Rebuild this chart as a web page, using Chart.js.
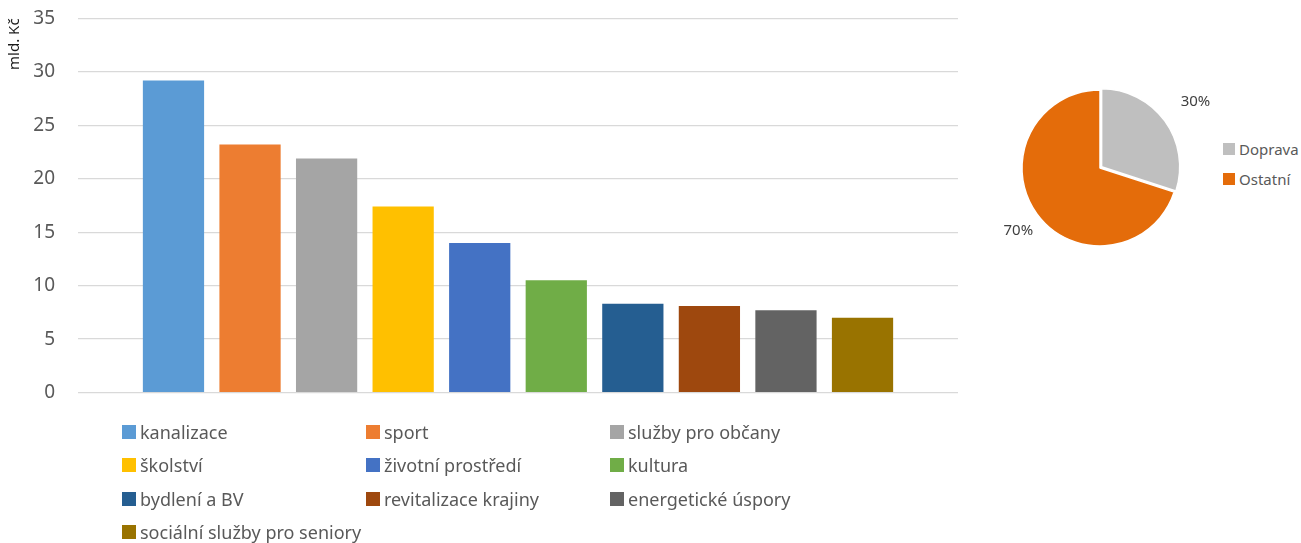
<!DOCTYPE html>
<html>
<head>
<meta charset="utf-8">
<script src="https://cdn.jsdelivr.net/npm/chart.js@4/dist/chart.umd.min.js"></script>
<style>
  body { margin: 0; background: #fff; font-family: "Noto Sans", sans-serif; }
  #wrap { position: relative; width: 1301px; height: 543px; overflow: hidden; }
  #barBox { position: absolute; left: 0; top: -16px; width: 962px; height: 443px; }
  #pieBox { position: absolute; left: 980px; top: 58px; width: 240px; height: 220px; }
  .legend { position: absolute; color: #595959; }
  #barLegend { left: 122px; top: 415px; display: grid; grid-template-columns: 244px 244px 244px; row-gap: 0; }
  #barLegend .item { height: 33.5px; display: flex; align-items: center; font-size: 18px; white-space: nowrap; }
  #barLegend .sw { width: 14px; height: 14px; margin-right: 4px; flex: none; }
  #pieLegend { left: 1223px; top: 134px; }
  #pieLegend .item { height: 30px; display: flex; align-items: center; font-size: 15px; }
  #pieLegend .sw { width: 12px; height: 12px; margin-right: 4px; }
</style>
</head>
<body>
<div id="wrap">
  <div id="barBox"><canvas id="barChart"></canvas></div>
  <div id="pieBox"><canvas id="pieChart"></canvas></div>
  <div id="barLegend" class="legend"></div>
  <div id="pieLegend" class="legend"></div>
</div>
<script>
// bar chart data (mld. Kč)
const categories = [
  'kanalizace', 'sport', 'služby pro občany', 'školství', 'životní prostředí',
  'kultura', 'bydlení a BV', 'revitalizace krajiny', 'energetické úspory',
  'sociální služby pro seniory'
];
const values = [29.2, 23.2, 21.9, 17.4, 14.0, 10.5, 8.3, 8.1, 7.7, 7.0];
const barColors = [
  '#5B9BD5', '#ED7D31', '#A5A5A5', '#FFC000', '#4472C4',
  '#70AD47', '#255E91', '#9E480E', '#636363', '#997300'
];
const yTicks = [0, 5, 10, 15, 20, 25, 30, 35];

// pie chart data (%)
const pieLabels = ['Doprava', 'Ostatní'];
const pieValues = [30, 70];
const pieColors = ['#BFBFBF', '#E46C0A'];

Chart.defaults.font.family = '"Noto Sans", sans-serif';
Chart.defaults.animation = false;

const barChart = new Chart(document.getElementById('barChart'), {
  type: 'bar',
  data: {
    labels: [''],
    datasets: categories.map((c, i) => ({
      label: c,
      data: [values[i]],
      backgroundColor: barColors[i]
    }))
  },
  options: {
    responsive: true,
    maintainAspectRatio: false,
    categoryPercentage: 0.87,
    barPercentage: 0.8,
    layout: { padding: { top: 3, right: 4, bottom: 0, left: 0 } },
    plugins: { legend: { display: false }, tooltip: { enabled: false } },
    scales: {
      x: {
        grid: { display: false },
        border: { display: false },
        ticks: { display: false }
      },
      y: {
        min: 0,
        max: 35,
        afterBuildTicks: (scale) => { scale.ticks = yTicks.map(v => ({ value: v })); },
        afterFit: (scale) => { scale.width = 78; },
        grid: { color: '#D9D9D9', drawTicks: false, lineWidth: 1.3 },
        border: { display: false },
        ticks: { color: '#595959', font: { size: 19 }, padding: 23 },
        title: {
          display: true,
          text: 'mld. Kč',
          align: 'end',
          color: '#1a1a1a',
          font: { size: 15 },
          padding: { top: 6, bottom: 0 }
        }
      }
    }
  }
});

// html legend in three columns, built from the chart's legend items
const barLegend = document.getElementById('barLegend');
Chart.defaults.plugins.legend.labels.generateLabels(barChart).forEach(item => {
  const d = document.createElement('div');
  d.className = 'item';
  d.innerHTML = '<span class="sw" style="background:' + item.fillStyle + '"></span>' + item.text;
  barLegend.appendChild(d);
});

// percent labels outside the pie
const pieLabelPlugin = {
  id: 'pieLabels',
  afterDatasetsDraw(chart) {
    const ctx = chart.ctx;
    const meta = chart.getDatasetMeta(0);
    const total = pieValues.reduce((a, b) => a + b, 0);
    ctx.save();
    ctx.font = '15px "Noto Sans", sans-serif';
    ctx.fillStyle = '#404040';
    ctx.textAlign = 'center';
    ctx.textBaseline = 'middle';
    meta.data.forEach((arc, i) => {
      const mid = (arc.startAngle + arc.endAngle) / 2;
      const r = arc.outerRadius + 23 + (arc.options.offset ? 17 : 0);
      const x = arc.x + Math.cos(mid) * r;
      const y = arc.y + Math.sin(mid) * r + 3;
      ctx.fillText(Math.round(pieValues[i] / total * 100) + '%', x, y);
    });
    ctx.restore();
  }
};

const pieChart = new Chart(document.getElementById('pieChart'), {
  type: 'pie',
  data: {
    labels: pieLabels,
    datasets: [{
      data: pieValues,
      backgroundColor: pieColors,
      borderColor: '#ffffff',
      borderWidth: 1.5,
      offset: [8, 0]
    }]
  },
  options: {
    responsive: true,
    maintainAspectRatio: false,
    radius: 78,
    plugins: { legend: { display: false }, tooltip: { enabled: false } }
  },
  plugins: [pieLabelPlugin]
});

const pieLegend = document.getElementById('pieLegend');
pieChart.options.plugins.legend.labels.generateLabels(pieChart).forEach(item => {
  const d = document.createElement('div');
  d.className = 'item';
  d.innerHTML = '<span class="sw" style="background:' + item.fillStyle + '"></span>' + item.text;
  pieLegend.appendChild(d);
});
</script>
</body>
</html>
